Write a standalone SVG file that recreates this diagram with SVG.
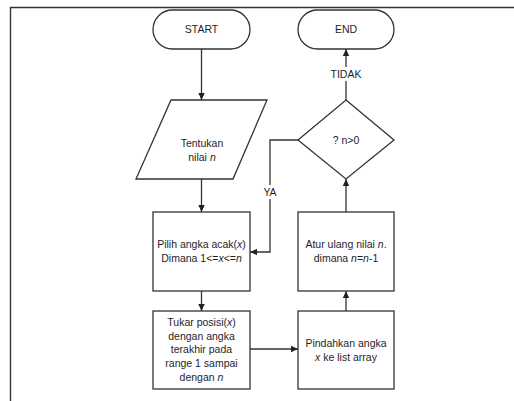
<svg xmlns="http://www.w3.org/2000/svg" width="514" height="401" viewBox="0 0 514 401">
<defs>
<marker id="ah" markerWidth="8" markerHeight="8" refX="7" refY="4" orient="auto" markerUnits="userSpaceOnUse">
<path d="M0,0.8 L7,4 L0,7.2 Z" fill="#222"/>
</marker>
<style>
.s{fill:#fff;stroke:#333;stroke-width:1.3}
.c{fill:none;stroke:#333;stroke-width:1.3}
text{font-family:"Liberation Sans",Arial,sans-serif;font-size:10.5px;fill:#1e1e2a;text-anchor:middle}
.i{font-style:italic}
.lb{fill:#fff;stroke:none}
</style>
</defs>
<rect width="514" height="401" fill="#fff"/>
<path d="M10.5,401 V7.5 H514" fill="none" stroke="#333" stroke-width="1.4"/>
<g id="connectors">
<line class="c" x1="201.5" y1="49" x2="201.5" y2="100" marker-end="url(#ah)"/>
<line class="c" x1="201.5" y1="179" x2="201.5" y2="212" marker-end="url(#ah)"/>
<line class="c" x1="201.5" y1="291" x2="201.5" y2="311" marker-end="url(#ah)"/>
<line class="c" x1="250" y1="349" x2="298" y2="349" marker-end="url(#ah)"/>
<line class="c" x1="346" y1="311" x2="346" y2="291" marker-end="url(#ah)"/>
<line class="c" x1="346" y1="212" x2="346" y2="179" marker-end="url(#ah)"/>
<line class="c" x1="346" y1="100" x2="346" y2="49" marker-end="url(#ah)"/>
<polyline class="c" points="298,140 270,140 270,252 250,252" marker-end="url(#ah)"/>
<rect class="lb" x="258" y="185" width="24" height="14"/>
<text x="270" y="196">YA</text>
<rect class="lb" x="326" y="67" width="40" height="14"/>
<text x="346" y="78">TIDAK</text>
</g>
<g id="start">
<rect class="s" x="153" y="10" width="97" height="39" rx="19.5"/>
<text x="201.5" y="33">START</text>
</g>
<g id="end">
<rect class="s" x="298" y="10" width="96" height="39" rx="19.5"/>
<text x="346" y="33">END</text>
</g>
<g id="input">
<polygon class="s" points="171,100 267,100 233,179 136,179"/>
<text x="202" y="147">Tentukan</text>
<text x="202" y="161">nilai <tspan class="i">n</tspan></text>
</g>
<g id="pilih">
<rect class="s" x="153" y="212" width="97" height="79"/>
<text x="201.5" y="248">Pilih angka acak(<tspan class="i">x</tspan>)</text>
<text x="201.5" y="262">Dimana 1&lt;=<tspan class="i">x</tspan>&lt;=<tspan class="i">n</tspan></text>
</g>
<g id="tukar">
<rect class="s" x="153" y="311" width="97" height="78"/>
<text x="201.5" y="326">Tukar posisi(<tspan class="i">x</tspan>)</text>
<text x="201.5" y="340">dengan angka</text>
<text x="201.5" y="353">terakhir pada</text>
<text x="201.5" y="367">range 1 sampai</text>
<text x="201.5" y="381">dengan <tspan class="i">n</tspan></text>
</g>
<g id="pindah">
<rect class="s" x="298" y="311" width="96" height="78"/>
<text x="346" y="347">Pindahkan angka</text>
<text x="346" y="361"><tspan class="i">x</tspan> ke list array</text>
</g>
<g id="atur">
<rect class="s" x="298" y="212" width="96" height="79"/>
<text x="346" y="248">Atur ulang nilai <tspan class="i">n</tspan>.</text>
<text x="346" y="262">dimana <tspan class="i">n</tspan>=<tspan class="i">n</tspan>-1</text>
</g>
<g id="decision">
<polygon class="s" points="346,100 394,140 346,179 298,140"/>
<text x="346" y="144">? n&gt;0</text>
</g>
</svg>
